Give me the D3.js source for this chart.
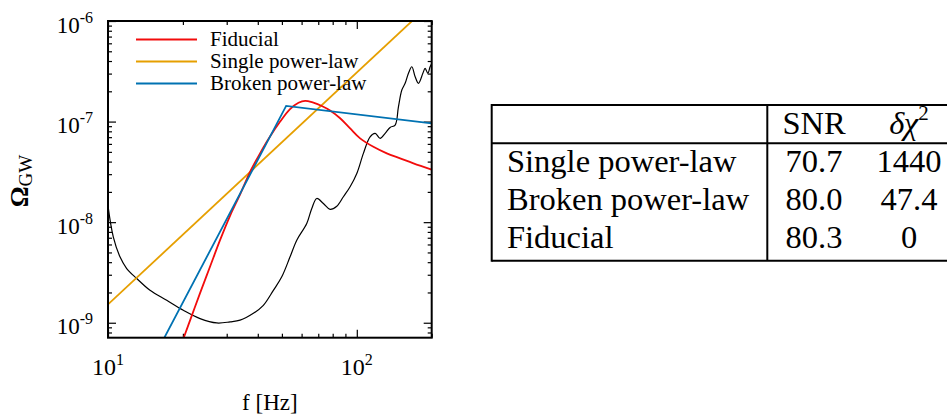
<!DOCTYPE html>
<html>
<head>
<meta charset="utf-8">
<script src="https://cdnjs.cloudflare.com/ajax/libs/d3/7.8.5/d3.min.js"></script>
<style>
  body { margin: 0; background: #fff; }
  svg text { font-family: "Liberation Serif", "Times New Roman", serif; }
</style>
</head>
<body>
<svg id="chart" width="947" height="414"></svg>
<script>

// ---- data ----
var seriesNames = ["Fiducial", "Single power-law", "Broken power-law"];
var seriesColors = ["#f20c0c", "#e69f00", "#0072b2"];

// fiducial spectrum (Hz, Omega)
var fidFreq = [20.1, 21.7, 23.4, 25.7, 28.2, 31.0, 34.0, 37.2, 40.9, 44.8, 49.2, 53.9,
               58.3, 62.0, 66.9, 72.3, 78.1, 85.7, 94.0, 103.1, 116.6, 132.0, 149.3, 168.9, 200];
var fidOmega = [6.97e-10, 1.17e-9, 1.95e-9, 3.60e-9, 6.62e-9, 1.17e-8, 1.90e-8, 3.15e-8, 4.86e-8,
                7.10e-8, 1.00e-7, 1.33e-7, 1.54e-7, 1.61e-7, 1.54e-7, 1.43e-7, 1.29e-7, 1.08e-7,
                8.55e-8, 6.81e-8, 5.61e-8, 4.83e-8, 4.31e-8, 3.84e-8, 3.33e-8];

// single power-law fit
var singleFreq = [10, 200];
var singleOmega = [1.52e-9, 1.52e-6];

// broken power-law fit
var brokenFreq = [10, 52, 200];
var brokenOmega = [6.1e-11, 1.43e-7, 9.6e-8];

// sensitivity curve
var sensFreq = [10.0, 10.5, 11.17, 11.89, 13.05, 14.75, 17.22, 20.08, 23.44, 27.36, 30.95, 33.95,
                38.39, 42.11, 46.20, 49.94, 53.92, 57.37, 62.93, 65.93, 69.06, 73.40, 78.08, 83.10,
                88.33, 93.99, 100.0, 106.3, 113.1, 118.5, 124.1, 130.0, 136.1, 142.6, 147.0, 151.7,
                156.4, 161.3, 166.4, 171.6, 176.9, 184.3, 188.2, 193.0, 197.1, 200.3];
var sensOmega = [1.45e-8, 7.14e-9, 4.52e-9, 3.46e-9, 2.75e-9, 2.10e-9, 1.67e-9, 1.33e-9, 1.10e-9,
                 9.95e-10, 1.02e-9, 1.06e-9, 1.24e-9, 1.49e-9, 2.10e-9, 2.86e-9, 4.52e-9, 6.62e-9,
                 9.70e-9, 1.37e-8, 1.72e-8, 1.53e-8, 1.34e-8, 1.44e-8, 1.79e-8, 2.25e-8, 3.05e-8,
                 4.83e-8, 7.06e-8, 7.64e-8, 6.81e-8, 7.64e-8, 8.75e-8, 9.23e-8, 1.40e-7, 2.06e-7,
                 2.40e-7, 3.02e-7, 3.51e-7, 2.79e-7, 2.40e-7, 3.02e-7, 3.38e-7, 3.02e-7, 3.51e-7, 3.79e-7];

var xMajor = [10, 100];
var xMinor = [20, 30, 40, 50, 60, 70, 80, 90, 200];
var yMajor = [1e-9, 1e-8, 1e-7, 1e-6];
var xTickExp = ["1", "2"];
var yTickExp = ["-9", "-8", "-7", "-6"];

// table
var tableRows = ["Single power-law", "Broken power-law", "Fiducial"];
var snrValues = ["70.7", "80.0", "80.3"];
var dchiValues = ["1440", "47.4", "0"];

// ---- layout ----
var svg = d3.select("#chart");
var plot = { left: 108, right: 431.7, top: 21, bottom: 337.7 };

var x = d3.scaleLog().domain([10, 200]).range([plot.left, plot.right]);
var y = d3.scaleLog().domain([7.1e-10, 1e-6]).range([plot.bottom, plot.top]);

var yMinor = [];
yMajor.forEach(function(d) {
  for (var k = 2; k <= 9; k++) {
    if (d * k < 1e-6 && d * k > 7.1e-10) yMinor.push(d * k);
  }
});
yMinor.push(8e-10, 9e-10);

svg.append("clipPath").attr("id", "plotclip")
  .append("rect")
  .attr("x", plot.left).attr("y", plot.top)
  .attr("width", plot.right - plot.left).attr("height", plot.bottom - plot.top);

// ticks, all pointing inward
function tickAxis(axis, transform, values, size) {
  var g = svg.append("g").attr("transform", transform)
    .call(axis.tickValues(values).tickSize(size).tickFormat(""));
  g.select(".domain").remove();
  g.selectAll("line").attr("stroke", "#000").attr("stroke-width", 1.2);
}
tickAxis(d3.axisBottom(x), "translate(0," + plot.bottom + ")", xMajor, -8);
tickAxis(d3.axisBottom(x), "translate(0," + plot.bottom + ")", xMinor, -4);
tickAxis(d3.axisTop(x), "translate(0," + plot.top + ")", xMajor, -8);
tickAxis(d3.axisTop(x), "translate(0," + plot.top + ")", xMinor, -4);
tickAxis(d3.axisLeft(y), "translate(" + plot.left + ",0)", yMajor, -8);
tickAxis(d3.axisLeft(y), "translate(" + plot.left + ",0)", yMinor, -4);
tickAxis(d3.axisRight(y), "translate(" + plot.right + ",0)", yMajor, -8);
tickAxis(d3.axisRight(y), "translate(" + plot.right + ",0)", yMinor, -4);

// curves
var line = d3.line()
  .x(function(d) { return x(d[0]); })
  .y(function(d) { return y(d[1]); });

var curves = svg.append("g").attr("clip-path", "url(#plotclip)");

curves.append("path")
  .datum(d3.zip(sensFreq, sensOmega))
  .attr("fill", "none").attr("stroke", "#000").attr("stroke-width", 1.2)
  .attr("d", line.curve(d3.curveCatmullRom.alpha(0.5)));

curves.append("path")
  .datum(d3.zip(singleFreq, singleOmega))
  .attr("fill", "none").attr("stroke", seriesColors[1]).attr("stroke-width", 1.8)
  .attr("d", line.curve(d3.curveLinear));

curves.append("path")
  .datum(d3.zip(fidFreq, fidOmega))
  .attr("fill", "none").attr("stroke", seriesColors[0]).attr("stroke-width", 1.8)
  .attr("d", line.curve(d3.curveCatmullRom.alpha(0.5)));

curves.append("path")
  .datum(d3.zip(brokenFreq, brokenOmega))
  .attr("fill", "none").attr("stroke", seriesColors[2]).attr("stroke-width", 1.8)
  .attr("d", line.curve(d3.curveLinear));

// frame
svg.append("rect")
  .attr("x", plot.left).attr("y", plot.top)
  .attr("width", plot.right - plot.left).attr("height", plot.bottom - plot.top)
  .attr("fill", "none").attr("stroke", "#000").attr("stroke-width", 2);

// tick labels with exponents
xMajor.forEach(function(d, i) {
  var t = svg.append("text")
    .attr("x", x(d)).attr("y", 375)
    .attr("text-anchor", "middle").attr("font-size", 24);
  t.append("tspan").text("10");
  t.append("tspan").attr("dy", -10).attr("font-size", 16).text(xTickExp[i]);
});

yMajor.forEach(function(d, i) {
  var t = svg.append("text")
    .attr("x", 93).attr("y", y(d) + 11.5)
    .attr("text-anchor", "end").attr("font-size", 23);
  t.append("tspan").text("10");
  t.append("tspan").attr("dy", -10).attr("font-size", 16).text(yTickExp[i]);
});

// axis titles
svg.append("text")
  .attr("x", (plot.left + plot.right) / 2).attr("y", 410)
  .attr("text-anchor", "middle").attr("font-size", 23)
  .text("f [Hz]");

var yt = svg.append("text")
  .attr("transform", "translate(28,181) rotate(-90)")
  .attr("text-anchor", "middle").attr("font-size", 26).attr("font-weight", "bold");
yt.append("tspan").text("\u03A9");
yt.append("tspan").attr("dy", 4).attr("font-size", 19).attr("font-weight", "normal").text("GW");

// legend
var legend = svg.append("g");
seriesNames.forEach(function(name, i) {
  var ly = 39.5 + i * 22;
  legend.append("line")
    .attr("x1", 136).attr("x2", 197).attr("y1", ly).attr("y2", ly)
    .attr("stroke", seriesColors[i]).attr("stroke-width", 1.8);
  legend.append("text")
    .attr("x", 210).attr("y", ly + 6.5).attr("font-size", 21)
    .text(name);
});

// ---- table ----
var tbl = svg.append("g").attr("stroke", "#000").attr("stroke-width", 2);
var tLeft = 491.7, tSplit = 767.3, tTop = 105, tHead = 143.3, tBottom = 260.7;
tbl.append("line").attr("x1", tLeft).attr("x2", 947).attr("y1", tTop).attr("y2", tTop);
tbl.append("line").attr("x1", tLeft).attr("x2", 947).attr("y1", tHead).attr("y2", tHead);
tbl.append("line").attr("x1", tLeft).attr("x2", 947).attr("y1", tBottom).attr("y2", tBottom);
tbl.append("line").attr("x1", tLeft).attr("x2", tLeft).attr("y1", tTop - 1).attr("y2", tBottom + 1);
tbl.append("line").attr("x1", tSplit).attr("x2", tSplit).attr("y1", tTop).attr("y2", tBottom);

var tfont = 32.5;
var snrX = 814, chiX = 909;
svg.append("text").attr("x", snrX).attr("y", 134).attr("text-anchor", "middle")
  .attr("font-size", tfont).text("SNR");
var hc = svg.append("text").attr("x", chiX).attr("y", 134).attr("text-anchor", "middle")
  .attr("font-size", tfont);
hc.append("tspan").attr("font-style", "italic").text("\u03B4\u03C7");
hc.append("tspan").attr("dy", -14).attr("font-size", 21).text("2");

tableRows.forEach(function(name, i) {
  var by = 172 + i * 38;
  svg.append("text").attr("x", 507).attr("y", by).attr("font-size", tfont).text(name);
  svg.append("text").attr("x", snrX).attr("y", by).attr("text-anchor", "middle")
    .attr("font-size", tfont).text(snrValues[i]);
  svg.append("text").attr("x", chiX).attr("y", by).attr("text-anchor", "middle")
    .attr("font-size", tfont).text(dchiValues[i]);
});

</script>
</body>
</html>
